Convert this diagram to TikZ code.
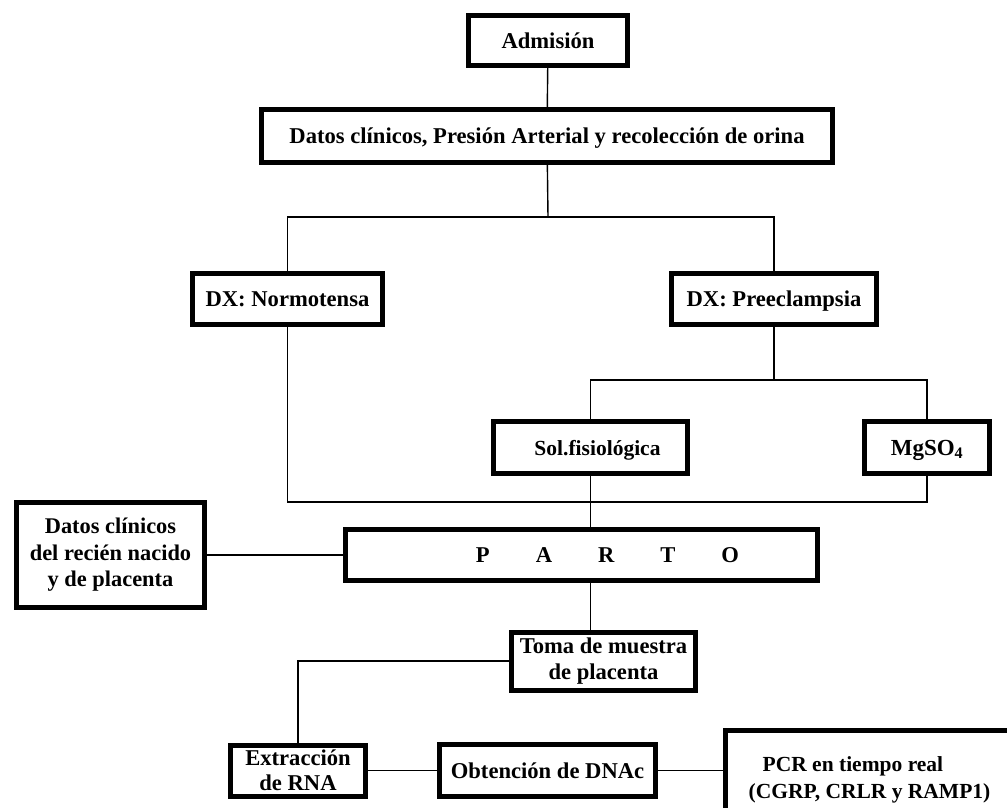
\documentclass[tikz,border=0pt]{standalone}
\usepackage{fontspec}
\setmainfont{Liberation Serif}
\newcommand{\vstrut}{\rule[-5.5pt]{0pt}{26pt}}
\begin{document}
\begin{tikzpicture}[x=1pt,y=-1pt,
  box/.style={draw=black,line width=5pt,fill=white,inner sep=0pt,align=center,
    font=\fontsize{22.6}{27}\selectfont\bfseries},
  link/.style={draw=black,line width=1.4pt}]
\useasboundingbox (0,0) rectangle (1007,807);
\clip (0,0) rectangle (1007,807);
\fill[white] (0,0) rectangle (1007,807);
% boxes
\node[box,minimum width=159,minimum height=50] (adm) at (548,40.5) {\vstrut Admisión};
\node[box,minimum width=571,minimum height=53] (dat) at (547,136) {\vstrut Datos clínicos, Presión Arterial y recolección de orina};
\node[box,minimum width=190,minimum height=51] (norm) at (287.5,299) {\vstrut DX: Normotensa};
\node[box,minimum width=205,minimum height=51] (pre) at (774,299) {\vstrut DX: Preeclampsia};
\node[box,minimum width=194,minimum height=52,font=\fontsize{21.5}{27}\selectfont\bfseries] (sol) at (590.5,447.5) {\vstrut\hspace*{14pt}Sol.fisiológica};
\node[box,minimum width=125,minimum height=52,font=\fontsize{23}{27}\selectfont\bfseries] (mg) at (927,447.5) {\vstrut MgSO\textsubscript{4}};
\node[box,minimum width=472,minimum height=51] (parto) at (581.5,555) {\vstrut\hspace*{52pt}P\hspace{46pt}A\hspace{46pt}R\hspace{46pt}T\hspace{46pt}O};
\node[box,minimum width=188,minimum height=105,font=\fontsize{22.4}{26.5}\selectfont\bfseries] (rn) at (110.5,555) {Datos clínicos\\del recién nacido\\y de placenta};
\node[box,minimum width=184,minimum height=58,font=\fontsize{22.6}{25.5}\selectfont\bfseries] (toma) at (603.5,661) {Toma de muestra\\de placenta};
\node[box,minimum width=135,minimum height=51,font=\fontsize{22.6}{25}\selectfont\bfseries] (ext) at (298,770.5) {Extracción\\de RNA};
\node[box,minimum width=216,minimum height=52] (obt) at (547.5,770.5) {\vstrut Obtención de DNAc};
\node[box,minimum width=288,minimum height=98,align=left,font=\fontsize{21.5}{27}\selectfont\bfseries] (pcr) at (869.5,779.5) {\hspace*{14pt}PCR en tiempo real\\(CGRP, CRLR y RAMP1)};
% junctions
\coordinate (j1) at (548,217);
\coordinate (j2) at (774,380);
\coordinate (j3) at (927,502);
% connectors
\draw[link] (adm) -- (dat);
\draw[link] (dat) -- (j1);
\draw[link] (j1) -| (norm);
\draw[link] (j1) -| (pre);
\draw[link] (pre) -- (j2);
\draw[link] (j2) -| (sol);
\draw[link] (j2) -| (mg);
\draw[link] (norm) |- (j3) -- (mg);
\draw[link] (sol) -- (sol |- parto.north);
\draw[link] (rn) -- (parto);
\draw[link] (parto.south -| sol) -- (toma.north -| sol);
\draw[link] (toma.west) -| (ext.north);
\draw[link] (ext) -- (obt);
\draw[link] (obt) -- (obt -| pcr.west);
\end{tikzpicture}
\end{document}
